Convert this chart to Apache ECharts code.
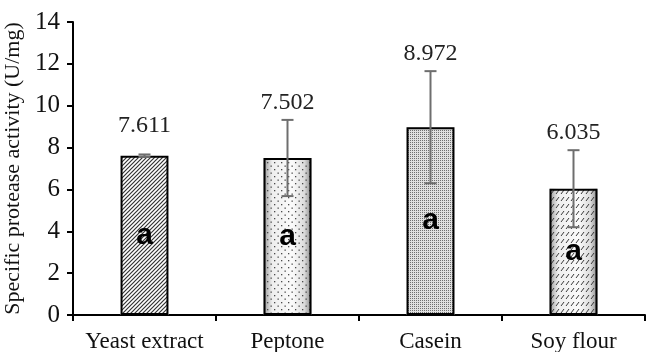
<!DOCTYPE html>
<html>
<head>
<meta charset="utf-8">
<script src="https://cdn.jsdelivr.net/npm/echarts@6/dist/echarts.min.js"></script>
<style>
  html, body { margin: 0; padding: 0; background: #fff; }
  #chart { width: 648px; height: 352px; }
</style>
</head>
<body>
<div id="chart"></div>
<script>
// Nitrogen sources and their measured specific protease activity
const categories = ['Yeast extract', 'Peptone', 'Casein', 'Soy flour'];
const activity = [7.611, 7.502, 8.972, 6.035];
const errors = [0.06, 1.82, 2.68, 1.84];
const groups = ['a', 'a', 'a', 'a'];
const yTicks = { min: 0, max: 14, step: 2 };

const SERIF = '"Liberation Serif", "Times New Roman", serif';

// ---- fill textures -------------------------------------------------------
function tile(w, h, draw) {
  const c = document.createElement('canvas');
  c.width = w; c.height = h;
  const ctx = c.getContext('2d');
  draw(ctx, w, h);
  return { image: c, repeat: 'repeat' };
}

// diagonal hatching
const hatch = tile(4, 4, (ctx) => {
  ctx.strokeStyle = '#333333';
  ctx.lineWidth = 1.2;
  ctx.beginPath();
  ctx.moveTo(-1, 5); ctx.lineTo(5, -1);
  ctx.moveTo(-1, 1); ctx.lineTo(1, -1);
  ctx.moveTo(3, 5); ctx.lineTo(5, 3);
  ctx.stroke();
});

// sparse dots
const sparseDots = tile(7, 7, (ctx) => {
  ctx.fillStyle = '#4a4a4a';
  ctx.fillRect(1, 1, 1.3, 1.3);
  ctx.fillRect(4.5, 4.5, 1.3, 1.3);
});

// dense stipple
const denseDots = tile(2, 2, (ctx) => {
  ctx.fillStyle = '#e0e0e0';
  ctx.fillRect(0, 0, 2, 2);
  ctx.fillStyle = '#707070';
  ctx.fillRect(0, 0, 1, 1);
});

// rows of short slashes
const slashes = tile(5, 7, (ctx) => {
  ctx.strokeStyle = '#3a3a3a';
  ctx.lineWidth = 1;
  ctx.beginPath();
  ctx.moveTo(1, 5); ctx.lineTo(4, 1);
  ctx.stroke();
});

const edgeShade = {
  type: 'linear', x: 0, y: 0, x2: 1, y2: 0,
  colorStops: [
    { offset: 0, color: '#9a9a9a' },
    { offset: 0.18, color: '#eeeeee' },
    { offset: 0.6, color: '#fbfbfb' },
    { offset: 0.85, color: '#dcdcdc' },
    { offset: 1, color: '#8a8a8a' }
  ]
};

const baseFills = ['#ffffff', edgeShade, '#d8d8d8', edgeShade];
const textures = [hatch, sparseDots, denseDots, slashes];

const chart = echarts.init(document.getElementById('chart'), null, { renderer: 'canvas' });

chart.setOption({
  animation: false,
  backgroundColor: '#ffffff',
  grid: { left: 73, right: 3, top: 22, bottom: 37, containLabel: false, outerBoundsMode: 'none' },
  xAxis: {
    type: 'category',
    data: categories,
    boundaryGap: true,
    axisLine: { lineStyle: { color: '#000', width: 2 } },
    axisTick: { show: true, alignWithLabel: false, length: 6, lineStyle: { color: '#000', width: 2 } },
    axisLabel: { color: '#111', fontFamily: SERIF, fontSize: 23, margin: 15, interval: 0, hideOverlap: false }
  },
  yAxis: {
    type: 'value',
    min: yTicks.min, max: yTicks.max, interval: yTicks.step,
    name: 'Specific protease activity (U/mg)',
    nameLocation: 'middle',
    nameRotate: 90,
    nameGap: 41,
    nameTextStyle: { color: '#111', fontFamily: SERIF, fontSize: 22 },
    axisLine: { show: true, lineStyle: { color: '#000', width: 2 } },
    axisTick: { show: true, length: 6, lineStyle: { color: '#000', width: 2 } },
    axisLabel: { color: '#111', fontFamily: SERIF, fontSize: 25, margin: 13 },
    splitLine: { show: false }
  },
  series: [
    {
      // base fill of each bar
      type: 'bar',
      barWidth: '33.5%',
      data: activity.map((v, i) => ({ value: v, itemStyle: { color: baseFills[i] } })),
      itemStyle: { borderColor: 'transparent', borderWidth: 0 },
      z: 2
    },
    {
      // texture overlay, outline and group letter
      type: 'bar',
      barWidth: '33.5%',
      barGap: '-100%',
      data: activity.map((v, i) => ({ value: v, itemStyle: { color: textures[i] } })),
      itemStyle: { borderColor: '#000', borderWidth: 2 },
      label: {
        show: true,
        position: 'inside',
        formatter: (p) => groups[p.dataIndex],
        color: '#000',
        fontFamily: '"Liberation Sans", Arial, sans-serif',
        fontWeight: 'bold',
        fontSize: 30,
        textBorderWidth: 0
      },
      z: 3
    },
    {
      // error bars and value labels
      type: 'custom',
      z: 5,
      data: activity.map((v, i) => [i, v, errors[i]]),
      renderItem: (params, api) => {
        const x = api.value(0);
        const v = api.value(1);
        const e = api.value(2);
        const top = api.coord([x, v + e]);
        const bot = api.coord([x, v - e]);
        const barTop = api.coord([x, v]);
        const cap = 6;
        const st = { stroke: '#6e6e6e', lineWidth: 2, fill: null };
        const labelBottom = Math.min(top[1] - 5, barTop[1] - 18);
        return {
          type: 'group',
          children: [
            { type: 'line', shape: { x1: top[0], y1: top[1], x2: bot[0], y2: bot[1] }, style: st },
            { type: 'line', shape: { x1: top[0] - cap, y1: top[1], x2: top[0] + cap, y2: top[1] }, style: st },
            { type: 'line', shape: { x1: bot[0] - cap, y1: bot[1], x2: bot[0] + cap, y2: bot[1] }, style: st },
            {
              type: 'text',
              style: {
                x: top[0], y: labelBottom,
                text: v.toFixed(3),
                fill: '#222',
                font: '24px ' + SERIF,
                align: 'center',
                verticalAlign: 'bottom'
              }
            }
          ]
        };
      }
    }
  ]
});
</script>
</body>
</html>
